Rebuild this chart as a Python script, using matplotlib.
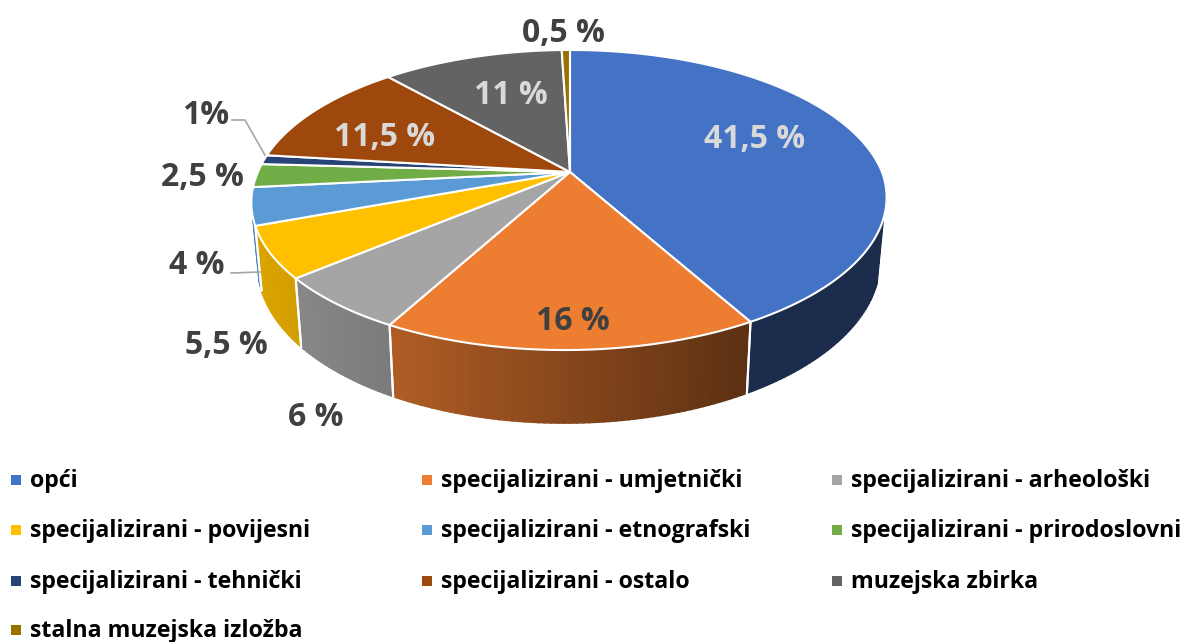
import numpy as np
from matplotlib import pyplot as plt
from matplotlib.patches import Rectangle

plt.rcParams['font.family'] = ['Open Sans', 'DejaVu Sans']

categories = ['opći', 'specijalizirani - umjetnički', 'specijalizirani - arheološki',
	'specijalizirani - povijesni', 'specijalizirani - etnografski', 'specijalizirani - prirodoslovni',
	'specijalizirani - tehnički', 'specijalizirani - ostalo', 'muzejska zbirka',
	'stalna muzejska izložba']
values = [41.5, 16, 6, 5.5, 4, 2.5, 1, 11.5, 11, 0.5]
value_labels = ['41,5 %', '16 %', '6 %', '5,5 %', '4 %', '2,5 %', '1%', '11,5 %', '11 %', '0,5 %']
colors = ['#4472C4', '#ED7D31', '#A5A5A5', '#FFC000', '#5B9BD5', '#70AD47', '#264478', '#9E480E', '#636363', '#997300']

# label centres in pixels and their colours
label_pos = [(755, 140), (573, 322), (316, 417), (226, 345), (197, 266), (202, 178), (206, 115), (385, 137), (511, 95), (563, 34)]
label_colors = ['#D9D9D9', '#404040', '#404040', '#404040', '#404040', '#404040', '#404040', '#D9D9D9', '#D9D9D9', '#404040']
legend_x = [10, 421, 831]
legend_y = [480, 530, 581, 630]

APEX_X, APEX_Y = 570, 172
PERSP = 56 / 300


def top_point(theta):
	# theta in radians, clockwise from 12 o'clock, perspective view of the disc
	x, y = np.sin(theta), np.cos(theta)
	d = 1 + PERSP * y
	skew = 5.5 * np.maximum(0, -y)
	return APEX_X + 312 * x / d - skew, APEX_Y - 144.8 * y / d


def bottom_point(theta):
	px, py = top_point(theta)
	return APEX_X + (px - APEX_X) * 0.98, py + 60 + 13 * np.abs(np.cos(theta))


def wall_shade(px):
	return np.interp((px - APEX_X) / 318, [-1, -0.56, 0.56, 1], [0.86, 0.74, 0.39, 0.39])


def draw_wall(ax, start, end, color):
	a0, a1 = max(start, np.radians(108)), min(end, np.radians(253))
	if a1 <= a0:
		return
	steps = np.linspace(a0, a1, max(2, int(np.degrees(a1 - a0)) + 2))
	rgb = np.array(plt.matplotlib.colors.to_rgb(color))
	for t0, t1 in zip(steps[:-1], steps[1:]):
		tx0, ty0 = top_point(t0)
		tx1, ty1 = top_point(t1)
		bx0, by0 = bottom_point(t0)
		bx1, by1 = bottom_point(t1)
		c = rgb * wall_shade((tx0 + tx1) / 2)
		ax.fill([tx0, tx1, bx1, bx0], [ty0, ty1, by1, by0], color=c, lw=1.2, zorder=1)
	for t in (a0, a1):
		if np.radians(108) < t < np.radians(253):
			tx, ty = top_point(t)
			bx, by = bottom_point(t)
			ax.plot([tx, bx], [ty, by], color='white', lw=1.5, zorder=2)


fig = plt.figure(figsize=(11.87, 6.42), dpi=100)
ax = fig.add_axes([0, 0, 1, 1])
ax.set_xlim(0, 1187)
ax.set_ylim(642, 0)
ax.axis('off')

edges = np.concatenate([[0], np.cumsum(values)]) / np.sum(values) * 2 * np.pi

for i, color in enumerate(colors):
	draw_wall(ax, edges[i], edges[i + 1], color)

for i, color in enumerate(colors):
	arc = np.linspace(edges[i], edges[i + 1], 120)
	px, py = top_point(arc)
	ax.fill(np.r_[APEX_X, px], np.r_[APEX_Y, py], facecolor=color, edgecolor='white', lw=1.5, joinstyle='round', zorder=3)

# leader lines
ax.plot([232, 245, 266], [120, 120, 157], color='#A6A6A6', lw=1.2, zorder=2)
ax.plot([231, 260], [273, 272], color='#A6A6A6', lw=1.2, zorder=2)

for text, pos, c in zip(value_labels, label_pos, label_colors):
	ax.text(pos[0], pos[1], text, color=c, fontsize=23, fontweight='bold', ha='center', va='center', zorder=4)

for i, name in enumerate(categories):
	row, col = i // 3, i % 3
	x, y = legend_x[col], legend_y[row]
	ax.add_patch(Rectangle((x + 1, y - 5), 10, 10, facecolor=colors[i], edgecolor='none'))
	ax.text(x + 20, y + 1, name, color='#000000', fontsize=16.7, fontweight='bold', ha='left', va='center')

fig.savefig('out.png', dpi=100)
